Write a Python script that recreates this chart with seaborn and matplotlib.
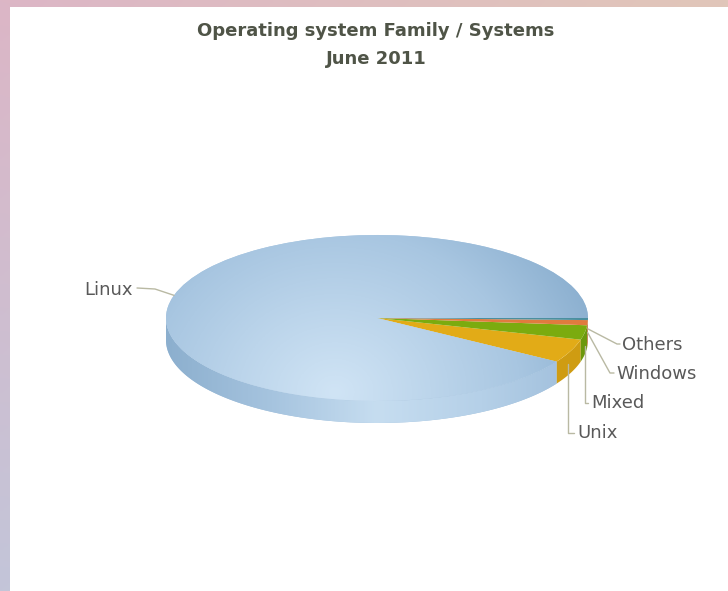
import numpy as np
import matplotlib
matplotlib.use("Agg")
import matplotlib.pyplot as plt
import seaborn as sns
from matplotlib.colors import LinearSegmentedColormap, to_rgb
from matplotlib.patches import Rectangle, Polygon

# ---- data ----
categories = ["Linux", "Unix", "Mixed", "Windows", "Others"]
systems = [456, 23, 14, 5, 2]
title_lines = ["Operating system Family / Systems", "June 2011"]

sns.set_theme(style="white")
plt.rcParams['font.family'] = ['DejaVu Sans']

W, H = 728, 591
fig = plt.figure(figsize=(W / 100, H / 100), dpi=100)

# ---- background frame ----
bg = fig.add_axes([0, 0, 1, 1])
bg.axis('off')
yy, xx = np.mgrid[0:1:200j, 0:1:200j]
pink = np.array(to_rgb("#dcb6c6"))
lav = np.array(to_rgb("#c3c5d9"))
beige = np.array(to_rgb("#e1c6b9"))
img = pink + (lav - pink) * yy[..., None] + (beige - pink) * xx[..., None]
bg.imshow(np.clip(img, 0, 1), extent=[0, 1, 0, 1], origin='upper', aspect='auto')
bg.add_patch(Rectangle((10 / W, 0), 1, 1 - 7 / H, color='white', lw=0))
bg.set_xlim(0, 1)
bg.set_ylim(0, 1)

# ---- pie ----
ax = fig.add_axes([0, 0, 1, 1])
ax.axis('off')
ax.patch.set_alpha(0)

cx, cy, rx, ry, depth = 377, 318, 211, 83, 22
top_colors = ["#a9c7e2", "#e2ab17", "#7bab0f", "#e07b3e", "#4b8f9f"]
side_colors = ["#a2c0dc", "#cf9c12", "#6c980c", "#c96c34", "#417f8c"]

wedges, _ = ax.pie(systems, colors=top_colors, startangle=0, counterclock=True,
                   wedgeprops=dict(linewidth=0, antialiased=True), radius=1)
for w in wedges:
    w.set_zorder(5)

d = depth / ry


def px(x, y):
    return (x - cx) / rx, (cy - y) / ry


# side walls
for i, w in enumerate(wedges):
    t1, t2 = w.theta1 % 360, w.theta2
    if t2 - t1 <= 0:
        continue
    a0, a1 = max(t1, 180), min(t2, 360)
    if a1 <= a0:
        continue
    t = np.radians(np.linspace(a0, a1, 200))
    top = np.column_stack([np.cos(t), np.sin(t)])
    bot = np.column_stack([np.cos(t[::-1]), np.sin(t[::-1]) - d])
    poly = Polygon(np.vstack([top, bot]), closed=True, facecolor=side_colors[i],
                   edgecolor='none', zorder=2)
    ax.add_patch(poly)
    if i == 0:
        cmap = LinearSegmentedColormap.from_list(
            "side", ["#8cafce", "#a6c4df", "#c6ddf0", "#b5d0e8", "#9ebdda"])
        gx = np.linspace(0, 1, 300)[None, :].repeat(2, axis=0)
        im = ax.imshow(gx, extent=[-1, 1, -1 - d, 0.2], origin='lower', aspect='auto',
                       cmap=cmap, zorder=3)
        im.set_clip_path(poly)

# top gradient on the Linux slice
gy, gx = np.mgrid[-1:1:300j, -1:1:300j]
r = np.sqrt(((gx + 0.2) / 1.0) ** 2 + ((gy + 0.9) / 2.2) ** 2)
cmap_top = LinearSegmentedColormap.from_list(
    "top", [(0, "#d0e4f5"), (0.35, "#bcd5eb"), (0.68, "#a8c6e1"), (1.0, "#8cb0d0")])
im2 = ax.imshow(np.clip(r / 1.3, 0, 1), extent=[-1, 1, -1, 1], origin='lower', aspect='auto',
                cmap=cmap_top, vmin=0, vmax=1, zorder=6)
im2.set_clip_path(wedges[0])

ax.set_aspect('auto')
ax.set_xlim(-cx / rx, (W - cx) / rx)
ax.set_ylim(-(H - cy) / ry, cy / ry)

# ---- labels & leader lines ----
lc = "#b9b9a3"
tc = "#595959"
fs = 13


def rim(i, drop=0.0):
    w = wedges[i]
    m = np.radians((w.theta1 + w.theta2) / 2)
    return np.cos(m), np.sin(m) - drop


# Linux
ax0 = rim(0)
p1 = px(137, 288)
ax.plot([ax0[0], px(155, 289)[0], p1[0]], [ax0[1], px(0, 289)[1], p1[1]],
        color=lc, lw=1, zorder=8)
ax.text(*px(133, 290), categories[0], ha='right', va='center', color=tc, fontsize=fs, zorder=9)

# Unix, Mixed: vertical then horizontal
for i, ly, tx in [(1, 433, 577), (2, 403, 591)]:
    a = rim(i, 0.6 * d)
    ax_x = a[0] - (3 / rx if i == 1 else 0)
    yb = px(0, ly)[1]
    ax.plot([ax_x, ax_x, px(tx - 3, 0)[0]], [a[1], yb, yb], color=lc, lw=1, zorder=8)
    ax.text(*px(tx, ly), categories[i], ha='left', va='center', color=tc, fontsize=fs, zorder=9)

# Windows, Others: diagonal then horizontal
for i, ex, ey, tx in [(3, 610, 373, 616), (4, 617, 344, 622)]:
    a = rim(i, 0.45 * d)
    e = px(ex, ey)
    ax.plot([a[0], e[0], px(tx - 2, 0)[0]], [a[1], e[1], e[1]], color=lc, lw=1, zorder=8)
    ax.text(*px(tx, ey + 1), categories[i], ha='left', va='center', color=tc, fontsize=fs, zorder=9)

# ---- title ----
fig.text(376 / W, 1 - 31 / H, title_lines[0], ha='center', va='center', color="#4f5447",
         fontsize=13, fontweight='bold')
fig.text(376 / W, 1 - 59 / H, title_lines[1], ha='center', va='center', color="#4f5447",
         fontsize=13, fontweight='bold')

fig.savefig("out.png", dpi=100)
